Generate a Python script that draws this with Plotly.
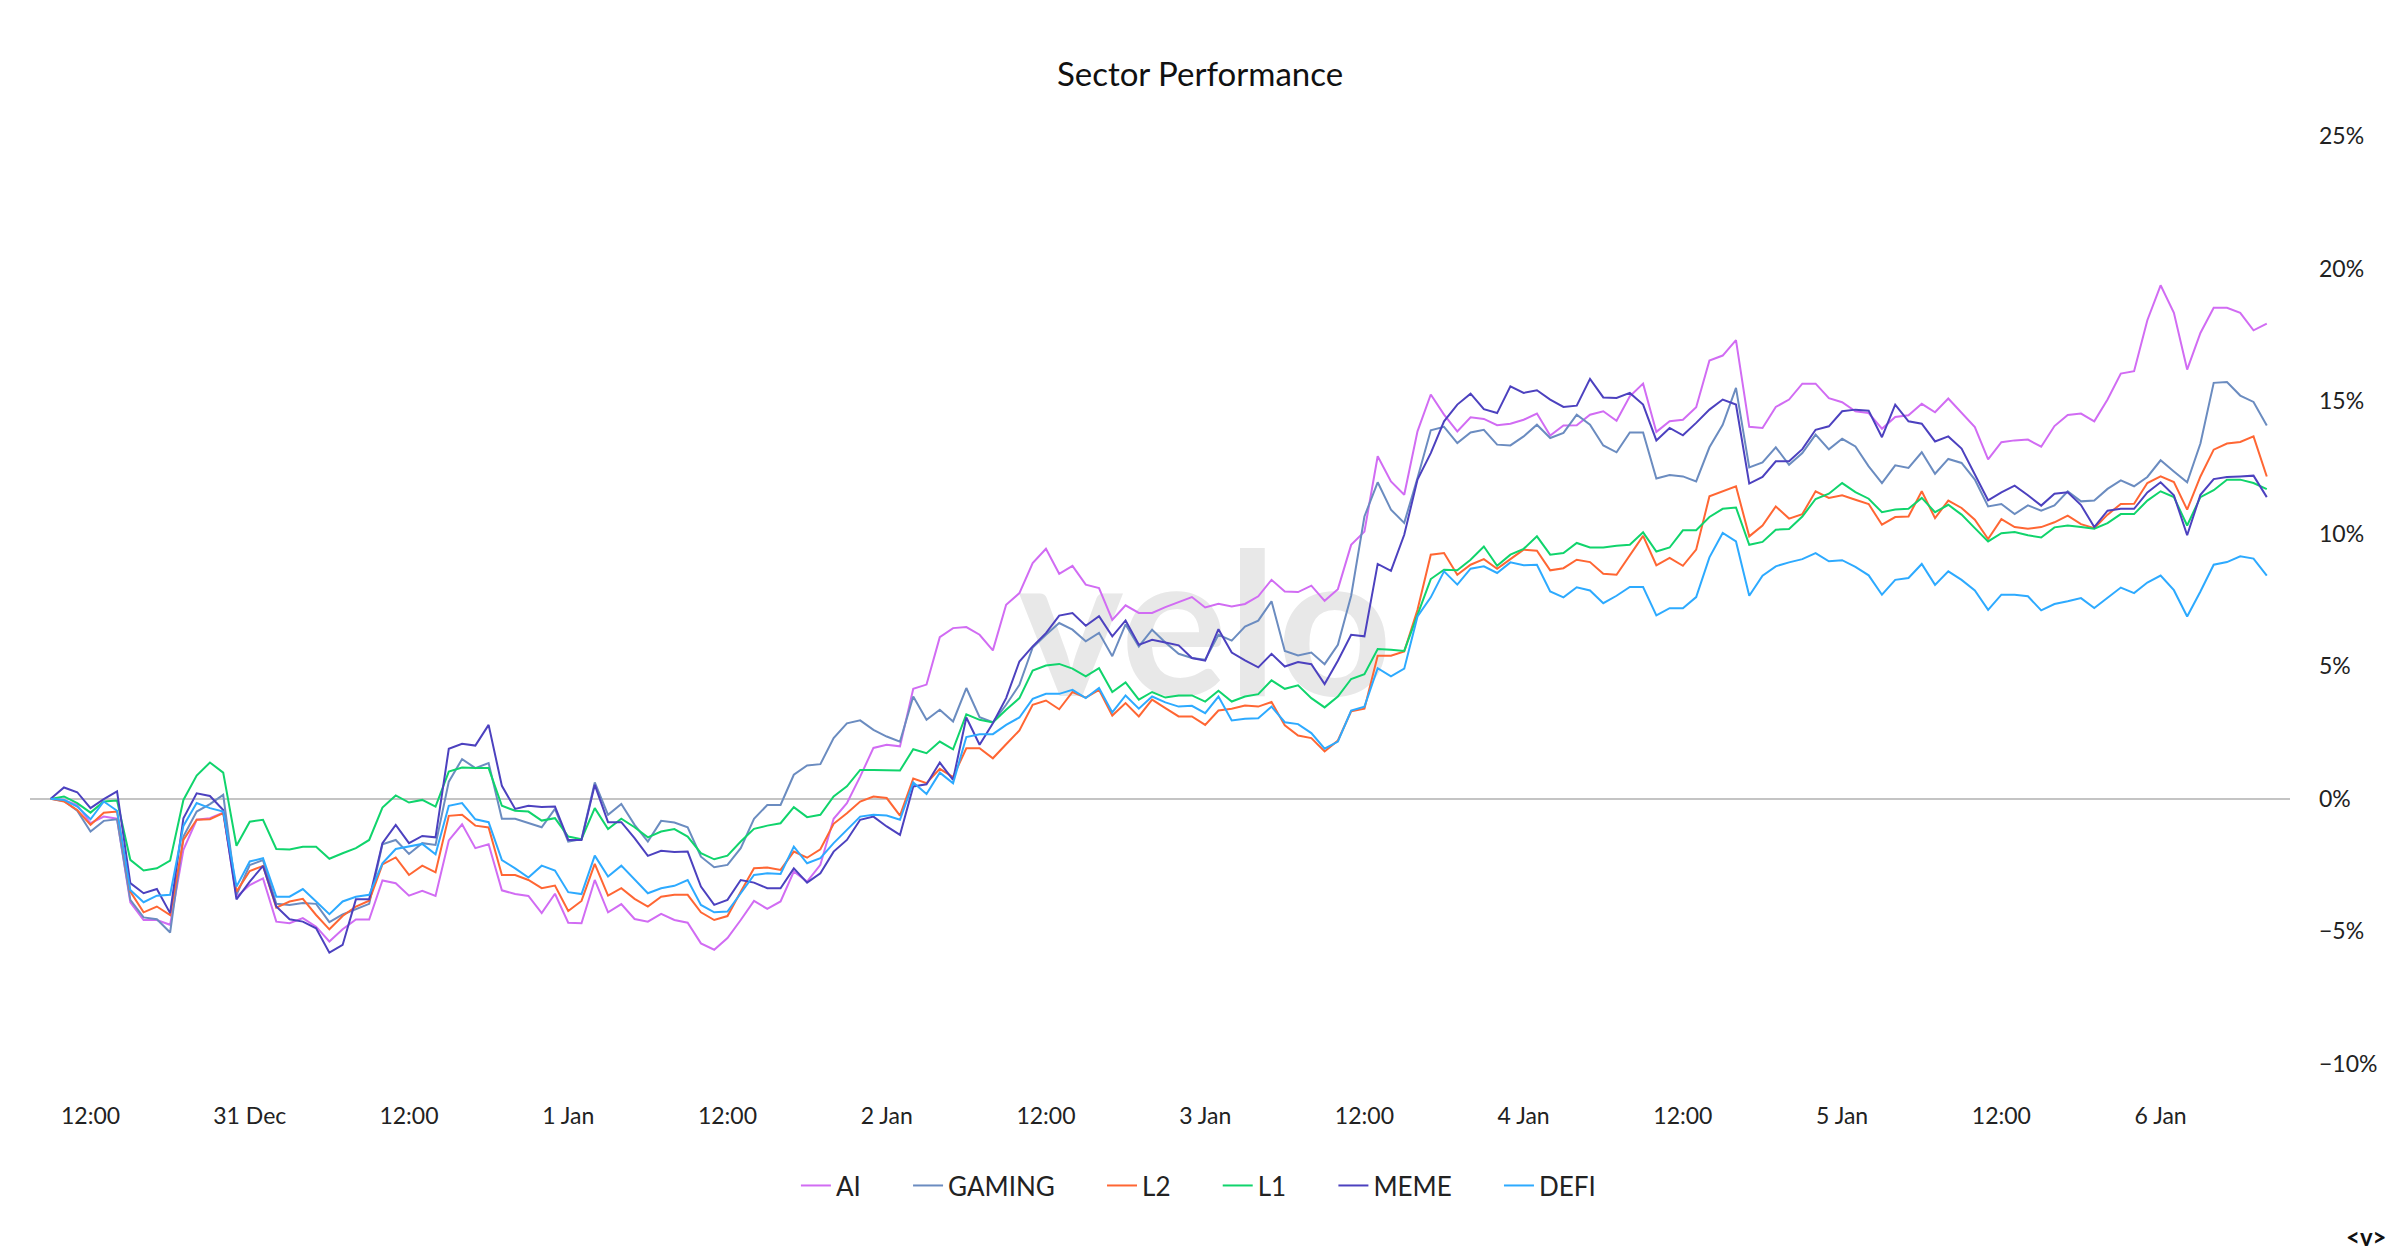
import pandas as pd
import plotly.graph_objects as go

start_time = "2024-12-30 09:00"
n_points = 168

ai = [0, -0.04, -0.23, -0.92, -0.67, -0.75, -3.90, -4.57, -4.57, -4.75, -1.92, -0.79, -0.73, -0.52, -3.69, -3.25, -3.00, -4.63, -4.69, -4.50, -4.82, -5.38, -4.92, -4.55, -4.55, -3.08, -3.18, -3.65,
      -3.47, -3.66, -1.57, -0.96, -1.86, -1.71, -3.45, -3.59, -3.66, -4.31, -3.58, -4.67, -4.69, -3.06, -4.28, -3.97, -4.53, -4.63, -4.34, -4.57, -4.67, -5.45, -5.69, -5.25, -4.57, -3.85, -4.15, -3.87,
      -2.74, -3.12, -2.49, -0.75, -0.16, 0.84, 1.92, 2.04, 1.98, 4.15, 4.31, 6.10, 6.44, 6.48, 6.19, 5.60, 7.32, 7.76, 8.89, 9.43, 8.49, 8.79, 8.08, 7.95, 6.75, 7.30, 7.01, 7.01,
      7.23, 7.42, 7.61, 7.22, 7.36, 7.26, 7.35, 7.64, 8.26, 7.82, 7.80, 8.04, 7.47, 7.91, 9.58, 10.08, 12.92, 11.97, 11.47, 13.86, 15.25, 14.49, 13.86, 14.39, 14.33, 14.09, 14.15, 14.30,
      14.53, 13.70, 14.08, 14.09, 14.49, 14.62, 14.26, 15.18, 15.66, 13.84, 14.24, 14.30, 14.77, 16.53, 16.72, 17.30, 14.03, 13.99, 14.78, 15.06, 15.66, 15.66, 15.11, 14.96, 14.62, 14.55, 13.96, 14.40,
      14.47, 14.90, 14.58, 15.10, 14.56, 14.02, 12.80, 13.45, 13.52, 13.55, 13.28, 14.06, 14.48, 14.53, 14.24, 15.06, 16.04, 16.13, 18.05, 19.37, 18.33, 16.19, 17.57, 18.52, 18.52, 18.33, 17.67, 17.92]

gaming = [0, -0.08, -0.45, -1.23, -0.83, -0.77, -3.81, -4.47, -4.54, -5.04, -1.42, -0.48, -0.20, 0.15, -3.62, -2.50, -2.31, -3.96, -4.00, -3.93, -3.96, -4.65, -4.36, -4.17, -3.96, -1.71, -1.55, -2.08,
          -1.67, -1.74, 0.65, 1.50, 1.16, 1.35, -0.75, -0.75, -0.92, -1.07, -0.38, -1.61, -1.52, 0.62, -0.60, -0.19, -0.98, -1.61, -0.83, -0.89, -1.07, -2.18, -2.58, -2.49, -1.86, -0.75, -0.23, -0.23,
          0.91, 1.26, 1.31, 2.29, 2.85, 2.96, 2.60, 2.35, 2.16, 3.86, 2.98, 3.36, 2.92, 4.18, 3.08, 2.89, 3.55, 4.30, 5.71, 6.19, 6.63, 6.38, 5.94, 6.26, 5.38, 6.58, 5.75, 6.38,
          5.90, 5.47, 5.31, 5.25, 6.19, 5.97, 6.50, 6.72, 7.45, 5.58, 5.41, 5.52, 5.08, 5.81, 7.66, 10.65, 11.94, 10.91, 10.41, 12.10, 13.90, 14.03, 13.42, 13.82, 13.92, 13.36, 13.33, 13.67,
          14.11, 13.61, 13.80, 14.49, 14.11, 13.33, 13.07, 13.82, 13.82, 12.08, 12.21, 12.16, 11.97, 13.26, 14.11, 15.50, 12.50, 12.69, 13.26, 12.60, 13.04, 13.74, 13.18, 13.58, 13.29, 12.54, 11.91, 12.58,
          12.48, 13.07, 12.26, 12.82, 12.67, 12.04, 11.03, 11.12, 10.74, 11.07, 10.87, 11.07, 11.60, 11.22, 11.25, 11.69, 12.01, 11.79, 12.14, 12.77, 12.35, 11.94, 13.40, 15.69, 15.72, 15.21, 14.97, 14.08]

l2 = [0, -0.10, -0.42, -0.98, -0.52, -0.48, -3.50, -4.28, -4.06, -4.38, -1.55, -0.79, -0.77, -0.54, -3.50, -2.72, -2.53, -4.10, -3.87, -3.77, -4.38, -4.92, -4.42, -4.06, -3.84, -2.47, -2.21, -2.87,
      -2.52, -2.77, -0.64, -0.60, -1.01, -1.08, -2.87, -2.87, -3.06, -3.37, -3.27, -4.23, -3.85, -2.45, -3.65, -3.37, -3.77, -4.06, -3.69, -3.62, -3.62, -4.28, -4.57, -4.42, -3.50, -2.62, -2.59, -2.68,
      -1.99, -2.22, -1.90, -0.94, -0.54, -0.10, 0.09, 0.03, -0.63, 0.77, 0.59, 1.13, 0.82, 1.91, 1.91, 1.53, 2.06, 2.58, 3.55, 3.71, 3.38, 4.03, 3.82, 4.11, 3.14, 3.61, 3.11, 3.74,
      3.42, 3.11, 3.11, 2.79, 3.33, 3.40, 3.52, 3.48, 3.65, 2.77, 2.39, 2.29, 1.79, 2.20, 3.30, 3.40, 5.40, 5.40, 5.56, 7.13, 9.21, 9.27, 8.45, 8.83, 9.04, 8.68, 9.04, 9.40,
      9.36, 8.62, 8.70, 9.02, 8.93, 8.49, 8.45, 9.21, 9.92, 8.81, 9.09, 8.79, 9.40, 11.41, 11.60, 11.79, 9.90, 10.31, 11.03, 10.57, 10.74, 11.60, 11.35, 11.45, 11.28, 11.12, 10.34, 10.63,
      10.65, 11.60, 10.59, 11.25, 10.97, 10.53, 9.80, 10.55, 10.25, 10.19, 10.25, 10.43, 10.68, 10.36, 10.21, 10.72, 11.12, 11.13, 11.91, 12.16, 11.95, 10.91, 12.16, 13.17, 13.40, 13.46, 13.67, 12.16]

l1 = [0, 0.09, -0.16, -0.52, -0.10, -0.06, -2.30, -2.70, -2.62, -2.33, -0.04, 0.88, 1.37, 0.99, -1.77, -0.86, -0.79, -1.89, -1.91, -1.81, -1.81, -2.26, -2.05, -1.86, -1.55, -0.33, 0.13, -0.14,
      -0.04, -0.29, 1.03, 1.18, 1.16, 1.16, -0.26, -0.45, -0.48, -0.82, -0.73, -1.42, -1.52, -0.35, -1.14, -0.75, -1.07, -1.45, -1.23, -1.14, -1.42, -2.05, -2.28, -2.14, -1.61, -1.13, -1.01, -0.92,
      -0.31, -0.69, -0.60, 0.09, 0.47, 1.09, 1.09, 1.09, 1.07, 1.87, 1.72, 2.16, 1.87, 3.19, 2.98, 2.88, 3.36, 3.80, 4.84, 5.03, 5.09, 4.91, 4.62, 4.93, 4.03, 4.39, 3.74, 4.03,
      3.82, 3.90, 3.90, 3.67, 4.08, 3.67, 3.86, 3.95, 4.47, 4.15, 4.28, 3.80, 3.45, 3.86, 4.52, 4.70, 5.65, 5.62, 5.58, 6.94, 8.29, 8.64, 8.62, 9.02, 9.52, 8.79, 9.21, 9.43,
      9.90, 9.21, 9.27, 9.65, 9.48, 9.48, 9.55, 9.58, 10.05, 9.33, 9.48, 10.13, 10.13, 10.63, 10.94, 10.99, 9.58, 9.69, 10.15, 10.18, 10.65, 11.31, 11.51, 11.91, 11.57, 11.32, 10.81, 10.91,
      10.94, 11.35, 10.81, 11.09, 10.72, 10.21, 9.71, 10.02, 10.06, 9.94, 9.86, 10.24, 10.31, 10.25, 10.19, 10.40, 10.74, 10.74, 11.25, 11.60, 11.38, 10.31, 11.38, 11.64, 12.04, 12.04, 11.91, 11.68]

meme = [0, 0.43, 0.25, -0.35, -0.01, 0.28, -3.18, -3.56, -3.40, -4.31, -0.73, 0.21, 0.11, -0.42, -3.79, -3.12, -2.53, -4.06, -4.54, -4.63, -4.88, -5.80, -5.51, -3.79, -3.79, -1.67, -0.98, -1.67,
        -1.40, -1.45, 1.89, 2.08, 2.01, 2.79, 0.49, -0.38, -0.26, -0.31, -0.29, -1.55, -1.55, 0.53, -0.88, -0.88, -1.48, -2.15, -1.96, -2.00, -1.99, -3.31, -4.00, -3.81, -3.06, -3.16, -3.37, -3.37,
        -2.62, -3.16, -2.81, -1.99, -1.55, -0.79, -0.67, -1.04, -1.36, 0.47, 0.55, 1.37, 0.72, 3.07, 2.04, 2.85, 3.80, 5.18, 5.75, 6.25, 6.91, 7.01, 6.53, 6.89, 6.13, 6.73, 5.81, 6.00,
        5.90, 5.79, 5.31, 5.21, 6.40, 5.52, 5.22, 4.96, 5.47, 4.99, 5.16, 5.08, 4.33, 5.21, 6.19, 6.13, 8.86, 8.60, 9.96, 12.04, 13.04, 14.24, 14.87, 15.28, 14.70, 14.55, 15.56, 15.31,
        15.41, 15.06, 14.78, 14.83, 15.84, 15.14, 15.12, 15.31, 14.87, 13.52, 13.99, 13.71, 14.18, 14.68, 15.06, 14.87, 11.89, 12.14, 12.73, 12.73, 13.19, 13.92, 14.05, 14.62, 14.68, 14.64, 13.64, 14.87,
        14.24, 14.15, 13.48, 13.67, 13.21, 12.23, 11.26, 11.56, 11.81, 11.45, 11.06, 11.51, 11.56, 11.08, 10.25, 10.87, 10.94, 10.94, 11.56, 11.94, 11.45, 9.94, 11.47, 12.06, 12.14, 12.16, 12.19, 11.38]

defi = [0, -0.04, -0.29, -0.77, -0.10, -0.45, -3.44, -3.90, -3.65, -3.62, -1.02, -0.16, -0.35, -0.48, -3.31, -2.36, -2.24, -3.69, -3.69, -3.40, -3.87, -4.35, -3.87, -3.69, -3.62, -2.43, -1.89, -1.80,
        -1.70, -2.09, -0.26, -0.16, -0.77, -0.88, -2.31, -2.62, -2.97, -2.52, -2.70, -3.52, -3.59, -2.14, -2.93, -2.52, -3.06, -3.56, -3.37, -3.28, -3.06, -4.00, -4.28, -4.25, -3.56, -2.87, -2.81, -2.83,
        -1.80, -2.43, -2.24, -1.67, -1.17, -0.67, -0.60, -0.63, -0.79, 0.62, 0.18, 0.99, 0.59, 2.33, 2.44, 2.44, 2.79, 3.07, 3.77, 3.96, 3.96, 4.11, 3.80, 4.18, 3.26, 3.90, 3.40, 3.86,
        3.64, 3.48, 3.51, 3.23, 3.86, 2.96, 3.02, 3.04, 3.48, 2.89, 2.82, 2.48, 1.89, 2.16, 3.33, 3.48, 4.93, 4.62, 4.91, 6.88, 7.60, 8.58, 8.08, 8.68, 8.77, 8.52, 8.92, 8.81,
        8.83, 7.82, 7.60, 7.98, 7.86, 7.38, 7.66, 7.99, 7.99, 6.92, 7.19, 7.19, 7.61, 9.11, 10.03, 9.71, 7.66, 8.42, 8.77, 8.92, 9.04, 9.27, 8.96, 9.00, 8.75, 8.43, 7.70, 8.26,
        8.33, 8.86, 8.07, 8.58, 8.26, 7.86, 7.13, 7.70, 7.70, 7.64, 7.11, 7.35, 7.45, 7.57, 7.20, 7.57, 7.97, 7.76, 8.16, 8.42, 7.87, 6.88, 7.82, 8.83, 8.93, 9.15, 9.06, 8.42]

series_names = ["AI", "GAMING", "L2", "L1", "MEME", "DEFI"]
series_values = [ai, gaming, l2, l1, meme, defi]
series_colors = ["#d16cf3", "#6b8cc0", "#ff6633", "#10d46c", "#4c41bf", "#2daaff"]

tick_times = ["2024-12-30 12:00", "2024-12-31 00:00", "2024-12-31 12:00", "2025-01-01 00:00",
              "2025-01-01 12:00", "2025-01-02 00:00", "2025-01-02 12:00", "2025-01-03 00:00",
              "2025-01-03 12:00", "2025-01-04 00:00", "2025-01-04 12:00", "2025-01-05 00:00",
              "2025-01-05 12:00", "2025-01-06 00:00"]
tick_labels = ["12:00", "31 Dec", "12:00", "1 Jan", "12:00", "2 Jan", "12:00", "3 Jan",
               "12:00", "4 Jan", "12:00", "5 Jan", "12:00", "6 Jan"]
y_ticks = [-10, -5, 0, 5, 10, 15, 20, 25]
y_tick_labels = ["\u221210%", "\u22125%", "0%", "5%", "10%", "15%", "20%", "25%"]

times = pd.date_range(start_time, periods=n_points, freq="h")
t0 = pd.Timestamp(start_time)

FONT = "Lato, 'Open Sans', sans-serif"
PAD = "\u2002" * 3 + "\u2009"

fig = go.Figure()

# watermark
fig.add_trace(go.Scatter(
    x=[t0 + pd.Timedelta(hours=87)], y=[5.75], mode="text", text=["<b>velo</b>"],
    textfont=dict(family="Lato", size=200, color="#e8e8e8"),
    showlegend=False, hoverinfo="skip"))

for k, (name, vals, col) in enumerate(zip(series_names, series_values, series_colors)):
    label = name + (PAD if k < len(series_names) - 1 else "")
    fig.add_trace(go.Scatter(x=times, y=vals, mode="lines", name=label,
                             line=dict(color=col, width=2)))

fig.update_layout(
    width=2400, height=1256,
    paper_bgcolor="white", plot_bgcolor="white",
    margin=dict(l=30, r=110, t=136, b=192),
    font=dict(family=FONT, size=23, color="#222222"),
    title=dict(text="Sector Performance", x=0.5, xanchor="center", y=1 - 74 / 1256,
               yanchor="middle", yref="container", font=dict(size=33, color="#111111")),
    showlegend=True,
    legend=dict(orientation="h", x=0.517, xanchor="center", y=-0.131, yanchor="middle",
                font=dict(size=26, color="#222222"), itemwidth=30, tracegroupgap=0),
    hovermode="x unified",
)
fig.update_xaxes(
    range=[t0 - pd.Timedelta(hours=1.56), t0 + pd.Timedelta(hours=168.75)],
    tickmode="array", tickvals=pd.to_datetime(tick_times), ticktext=tick_labels,
    showgrid=False, zeroline=False, showline=False, ticks="",
    ticklabelstandoff=36, tickfont=dict(size=23),
)
fig.update_yaxes(
    range=[-10, 25], side="right", tickmode="array", tickvals=y_ticks, ticktext=y_tick_labels,
    showgrid=False, zeroline=True, zerolinecolor="#c4c4c4", zerolinewidth=2,
    showline=False, ticks="", ticklabelstandoff=28, tickfont=dict(size=23),
)

fig.add_annotation(text="<b>&lt;v&gt;</b>", xref="paper", yref="paper", x=(2366 - 30) / 2260,
                   xanchor="center", y=-(1236 - 1064) / 928, yanchor="middle",
                   showarrow=False, font=dict(size=24, color="#111111"))

fig.write_html("out.html")
